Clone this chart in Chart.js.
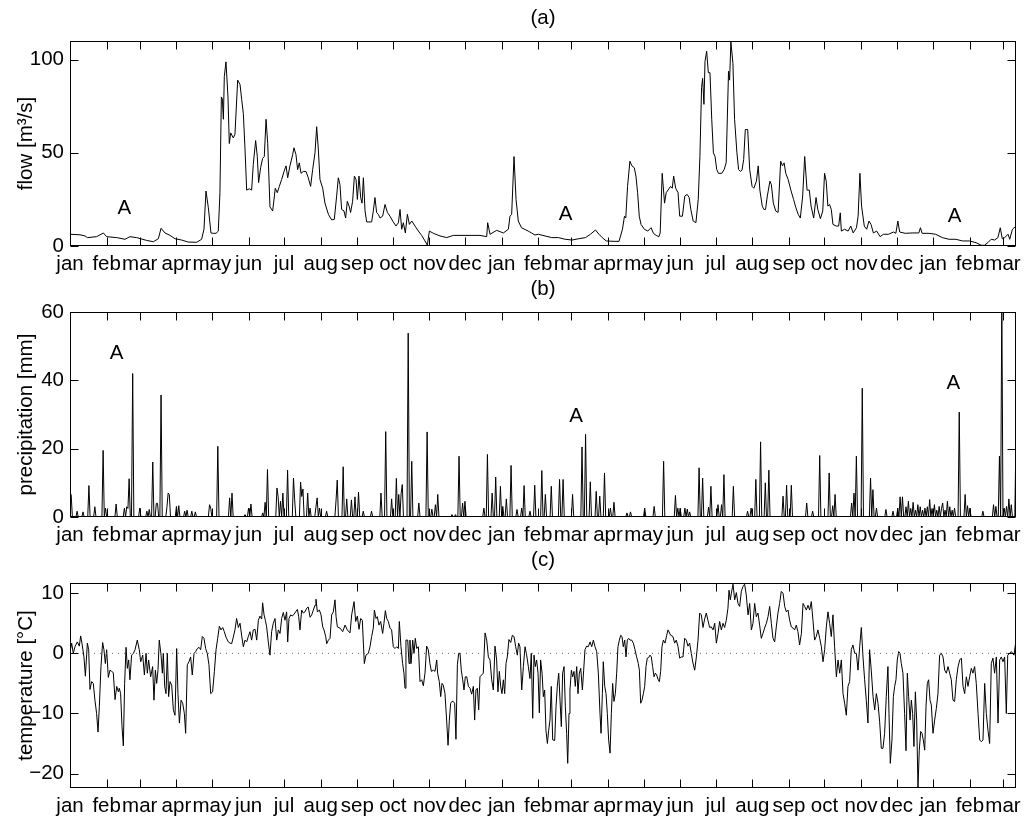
<!DOCTYPE html>
<html><head><meta charset="utf-8">
<script src="https://cdn.jsdelivr.net/npm/chart.js@4.4.1/dist/chart.umd.min.js"></script>
<style>
html,body{margin:0;padding:0;background:#fff;}
#wrap{position:relative;width:1028px;height:821px;overflow:hidden;background:#fff;}
canvas{position:absolute;left:0;}
</style></head><body>
<div id="wrap">
<canvas id="cA" width="1028" height="275" style="top:0px"></canvas>
<canvas id="cB" width="1028" height="270" style="top:275px"></canvas>
<canvas id="cC" width="1028" height="276" style="top:545px"></canvas>
</div>
<script>
// ---- x axis: day index from 1 Jan of the first year; month starts & labels ----
const monthTickDays = [0,31,59,90,120,151,181,212,243,273,304,334,365,396,424,455,485,516,546,577,608,638,669,699,730,761,789];
const monthLabels = ['jan','feb','mar','apr','may','jun','jul','aug','sep','oct','nov','dec','jan','feb','mar','apr','may','jun','jul','aug','sep','oct','nov','dec','jan','feb','mar'];

// ---- y ticks ----
const flowTicks = [0, 50, 100];
const precipTicks = [0, 20, 40, 60];
const tempTicks = [-20, -10, 0, 10];

// ---- (a) flow [m3/s] : [day, value] ----
const flowPoints = [
[0,6.3],[8.5,6],[12.7,5.4],[14.7,4.5],[22.5,5],[28.2,7],[31,5],[39.5,4.5],[46.5,3.6],[50.7,5],[56.4,4.5],[64.8,3],[70.5,2.3],[74.7,3.9],[77,9.5],[80.3,7],[84.6,5.7],[88.8,3.9],[94.4,3.2],[100,2.1],[107.1,2],[111.3,3.6],[113.3,9],[115,29.5],[117,20.5],[119.2,7],[121.2,6.8],[123.5,6.8],[125.4,8],[126.8,28.6],[128,80],[128.8,79],[129.7,68],[130.5,91],[131.9,98.8],[133.6,80],[134.7,55],[135.9,60.7],[138.1,58],[139.5,60],[141.8,89],[143.8,86.6],[145.2,78.6],[146.6,71],[148,52],[149.4,30],[151.7,30.7],[153.6,30],[155,43.8],[157,56.6],[158.4,48],[159.5,34],[161.2,42],[162.9,47],[164.3,48],[165.8,68],[167.2,55],[169.1,21],[171.4,18.8],[173.6,31],[175.3,28.6],[177,32],[179,35.7],[181,40],[182.7,43],[184.1,36.6],[186,43],[188.3,49],[189.4,52.7],[191.1,49],[192.5,41],[193.9,44.6],[195.4,39],[197.3,40],[199.6,40],[201.5,36.6],[203.5,32],[205.2,41],[207.2,50],[208.6,64],[210,52],[211.4,35.7],[213.7,31],[215.6,23],[218.5,17],[221.3,14],[223.5,14.3],[225.5,26.8],[226.9,36.6],[228.3,33],[229.7,19.6],[231.7,18.8],[233.1,15],[234.5,24],[236.2,21],[237.3,18],[239,24],[240.5,37.5],[241.9,35.7],[243,25],[244.4,37.5],[245.8,26],[247,23],[248.1,36.6],[249.5,18.8],[250.9,12.9],[255.1,12.9],[256.5,18.8],[257.9,26],[259.3,18],[260.7,17],[262.2,15],[264.4,16],[266.4,22.3],[268.4,18],[270.6,16],[272.9,13.4],[275.7,10.7],[277.7,12.5],[279.1,19.6],[280.5,9],[281.9,12.5],[283.6,7],[285.3,17],[287,11.6],[289,13.4],[291.8,10.7],[294.6,8],[297.4,5.7],[300.2,2.7],[302.2,0.4],[303.9,8],[307.3,6.8],[312.9,5.4],[318.5,4.5],[324.2,5.7],[346.7,5.7],[352.4,5],[353.2,12.5],[355.2,6.3],[360.8,8.4],[363.6,7.7],[366.5,7],[370.7,9],[372.1,16],[373.5,17],[375.5,48],[377.2,25],[379.1,13.4],
[381.8,9.8],[387.5,8],[390.3,7],[393.2,5.9],[396,6.3],[401.7,5.4],[407.4,4.5],[413.1,4.5],[418.8,3.6],[424.5,3.2],[430.2,3.9],[435.9,4.5],[440.1,6.3],[444.4,8.6],[447.3,6.3],[450.1,4.5],[453.5,2.7],[460.1,2.5],[464.3,2.5],[467.2,9],[468.9,16],[470,15],[471.5,32],[473.5,45.5],[475.2,43],[477.2,42],[478.6,37.5],[480,28.6],[481.4,16],[482.9,11.6],[485.7,9],[488.6,8],[491.4,9.8],[493.4,6.8],[495.7,5.7],[498,5],[499.1,7],[500.8,39],[502.8,23],[504.2,28.6],[506.5,30.7],[507.9,32],[509.3,31],[510.5,37.5],[512.2,31],[514.2,28.6],[515.6,16],[517.9,16],[519.9,26.8],[521.9,27.7],[523.6,26],[525,19.6],[527,13.4],[529.3,12.5],[531.3,25],[532.7,48],[534.1,85],[535,90],[536.1,76],[537,99],[538.4,104.5],[539.8,93],[541.2,93],[542.7,68],[544.1,50],[545.5,48],[546.9,41],[548.4,39],[551.2,39],[553.2,41],[554.9,44.6],[556.9,93.8],[557.8,89],[558.9,109.5],[560.6,98],[562,68],[564,50],[565.4,41],[566.9,40],[568.3,40.7],[569.7,46.4],[571.1,62.5],[573.1,62.5],[574.8,41],[576.8,32],[578.3,31],[580.5,34.8],[582,43],[583.4,30],[585.4,21.4],[586.8,19.6],[588.2,19.6],[589.7,26.8],[591.9,34.8],[593.1,33],[594.8,23],[596.8,18.8],[598.8,18],[601,45.5],[602.5,43],[603.9,44.6],[605.3,39],[607.3,35.7],[609.6,30],[611.9,25],[613.9,20.5],[615.8,17],[617.6,15],[619.6,26.8],[621.3,48],[623.3,30],[625.2,30],[626.7,21.4],[628.9,15],[630.9,26],[632.4,19.6],[634.6,14.6],[636.6,18.8],[638.1,39],[639.5,34.8],[640.9,21.4],[642.3,22.3],[643.8,19.6],[645.2,11.6],[648,10.7],[650,10.7],[651.4,17.8],[652.3,8],[655.1,9],[658,8],[660.3,10.7],[662.3,7],[665.1,9.8],[666.5,16],[668,39],[669.4,21.4],[671.7,10.7],[673.7,9],[675.7,13.4],[677.4,11.6],[679.4,7],[682.2,8],[685.1,5],[687.9,6.3],[692.2,6.3],[696.4,7.5],[698.4,6.8],[700.1,13.4],[701.6,7.5],[706.4,6.8],[712.1,7],[717.8,7],[719.2,9.8],[720.6,6.8],[726.3,6.8],[732,6.3],[737.7,4.5],[743.4,3.6],[749.1,3.6],[754.8,2.7],[760.5,2.7],[766.2,1.8],[770.5,0.4],[773.3,0.4],[776.2,1.8],[779,3.6],[781.9,3.2],[784.7,4.5],[786.7,9.8],[788.4,3.9],[790.4,4.5],[793.3,6.3],[794.7,3.6],[797,9],[800,10.7]
];

// ---- (b) precipitation [mm] : rain days [day, mm]; all other days are dry (0 mm) ----
const precipEvents = [
[0,7],[1,6.5],[6,1.7],[11,1.5],[16,9.2],[21,3],[28,19.5],[30,2.6],[39,3.8],[46,2.6],[48,3],[49,2.5],[50,11.2],[53,42],[59,2.6],[65,1.7],[67,2.2],[70,16.1],[73,4],[74,4],[77,35.7],[82,3],[83,7],[84,6.5],[90,3.1],[92,3.3],[97,1.7],[99,2],[103,1.7],[106,1.5],[118,3.6],[119,2.6],[125,20.7],[135,5.6],[137,7],[148,0.7],[151,2.6],[153,3.8],[163,1.2],[165,4.3],[167,13.9],[175,8.5],[176,6],[178,4.6],[180,7],[184,13.7],[189,11.4],[190,5],[195,10.2],[196,6],[197,8.2],[201,7],[203,2.6],[208,3],[209,5.6],[211,2.6],[217,1.7],[225,5],[226,10.8],[231,14.7],[234,5.3],[238,5],[241,5.9],[244,7.3],[248,1.7],[255,1.7],[263,7],[267,25],[272,5.3],[276,11.3],[278,6.6],[280,6.8],[281,9.5],[286,53.8],[289,16.3],[295,4.1],[302,24.9],[306,2.3],[309,3.6],[311,6.6],[323,0.7],[326,0.7],[329,17.8],[332,4.1],[334,4.6],[350,2.6],[353,18.3],[357,7],[360,11.7],[364,9],[366,3.1],[369,5.3],[373,15.1],[378,2.2],[382,2.6],[384,9.2],[389,1.7],[393,9.3],[399,13.6],[402,6.6],[407,9],[414,11],[417,11],[425,6.6],[433,20.5],[436,24.2],[440,10.3],[445,7.5],[448,6.1],[452,12.9],[457,2.6],[460,4.3],[471,1.2],[474,1.5],[486,2.6],[494,3.1],[502,16.3],[512,6.3],[514,2.6],[516,2.6],[520,2.6],[522,2.3],[524,1.5],[532,14.4],[535,11.4],[540,2.9],[542,9],[548,3.6],[551,3.6],[553,12.4],[561,9],[573,1.7],[576,2.6],[580,11],[584,22],[588,10],[591,13.7],[603,6.1],[606,9.3],[610,9.3],[623,4.1],[628,1.7],[634,18],[642,12.9],[645,3.3],[647,6.6],[661,4.1],[663,7],[665,17.8],[670,37.7],[677,11.4],[679,8],[682,2.6],[690,2.2],[696,1.7],[700,2.6],[702,5.9],[704,5.9],[707,3],[709,4.6],[711,2.5],[713,4.3],[715,2],[717,3.6],[719,3],[721,2],[723,2.6],[725,3],[727,5.1],[729,2.5],[731,3.6],[733,2],[735,3.1],[737,2.5],[738,4.1],[740,2],[742,4.6],[744,3],[746,2],[748,2.6],[752,30.7],[757,6.6],[759,3.3],[761,2.6],[772,1.7],[781,3.6],[783,3.1],[786,17.8],[788,63],[790,2.6],[792,3.1],[794,5.3],[796,3.6],[800,24.2]
];

// ---- (c) temperature [°C] : [day, value] ----
const tempPoints = [
[0.6,0.8],[1.4,1.7],[2.8,0],[4.2,1.1],[6.2,1.9],[7.9,1.2],[9,2.9],[10.1,1.7],[11.8,-0.6],[13,-3.8],[14.7,1.7],[15.8,0.6],[16.9,-6],[18.3,-4.7],[19.7,-5],[21.1,-7.8],[22.5,-10],[23.7,-13.1],[24.8,-8.9],[26.2,-2.2],[27.6,1.8],[28.7,0.6],[29.9,-1.7],[31,0.6],[32.4,-4],[33.8,-2.8],[35.2,-3],[36.6,-3.2],[38.1,-7.7],[39.5,-5.5],[40.9,-6.4],[41.7,-5.8],[42.8,-6.7],[44,-12.2],[45.1,-15.4],[46.2,-5],[47.4,1],[48.5,-2.5],[49.6,-1.1],[50.7,-4.4],[52.1,-0.3],[53.6,0],[55,0.6],[56.9,2.2],[58.6,0.6],[59.8,-1.4],[61.5,-0.3],[62.9,-3.6],[64.3,0],[65.4,-3.3],[66.5,-1.1],[68.2,-3.9],[69.9,-2.2],[71,-7.8],[72.2,-2.8],[73.3,-5],[74.4,-2.8],[75.5,2.2],[77,-0.3],[78.1,-3.3],[78.9,0],[80.1,-5.5],[81.2,-6.7],[82.3,0],[83.4,-7.2],[84.6,-4.7],[86,-5.3],[87.4,-9.4],[88.8,-10.3],[90.2,0.8],[91.3,-6.7],[92.5,-11.6],[93.9,-7.8],[95.3,-8.3],[96.7,-10],[97.8,-13.3],[99.2,-1.9],[100.6,-1.4],[102,-0.6],[103.4,-3.6],[104.9,0],[106.3,0.3],[107.7,0.8],[109.1,1],[110.5,0.6],[111.9,2.8],[113.3,2.5],[114.7,0.8],[116.1,0],[117.5,-1.9],[119,-6.7],[120.6,-6.4],[122.1,-3],[123.5,0.6],[124.9,2.5],[126.3,4.5],[127.7,3.9],[129.1,4.3],[130.5,3.6],[131.9,2.7],[133.9,1.9],[135.3,1.7],[136.7,1.6],[138.1,2.7],[139.5,3.9],[140.9,5.8],[142.4,4.3],[143.8,5],[145.2,2.9],[146.6,1.1],[148,2.2],[149.4,1.9],[150.8,2.8],[152.2,3.6],[153.6,2.2],[155,3.9],[156.5,4],[157.9,2.2],[159.3,5.5],[160.7,6.2],[162.1,5.7],[162.9,8.4],[164.1,6.4],[165.2,5.5],[166.3,4.4],[167.7,1.9],[169.1,-0.3],[170.5,3.6],[171.9,5],[173.4,5.8],[174.8,2.2],[176.2,3.9],[177.6,3.3],[179,5.8],[180.4,6.8],[181.8,5.5],[183.2,6.9],[184.1,1.9],[185.2,5.8],[186.6,6.4],[188,6.2],[189.4,6.5],[190.8,6.9],[192.3,7.3],[193.4,6.1],[194.5,3.9],[195.9,7.2],[197.3,6.7],[198.7,6.9],[200.1,7.5],[201.5,7.7],[203,6],[204.4,6.4],[205.8,7.2],[207.2,8],[208,9],[209.2,6.9],[210.9,7.2],[212.3,6.4],[213.7,4.4],[214.8,3.9],[216.2,2.8],[217.1,1.6],[218.5,2.2],[219.9,2.5],[221.3,6.4],[222.7,6.9],[224.1,8.9],[225,6.1],[226.1,4.4],
[228.3,4.2],[230.6,3.6],[232.6,4.7],[234.5,3.9],[236.8,3.4],[238.2,6.4],[240.2,8.6],[241.6,5.3],[243,6.2],[244.4,4],[245.8,5.8],[247.2,5.5],[248.9,-1.7],[250.3,-0.3],[252.3,0],[253.7,1.1],[255.1,2.8],[256.5,4.2],[257.4,7.2],[258.8,5.8],[259.9,6.1],[261.3,4.7],[262.7,5.3],[264.4,3.3],[265.5,5],[266.7,7.1],[267.8,5.8],[269.2,5.3],[270.6,4.2],[272,3.9],[273.4,1.1],[274.8,0.8],[276.3,1.1],[277.7,0.8],[278.5,5.3],[279.9,1.1],[281.3,-1.7],[282.4,-3.3],[283.3,-5.8],[284.1,2.2],[285.6,2.2],[286.7,-1.7],[287.5,2.2],[288.4,-1.7],[289.8,2.2],[290.9,0],[292,2.5],[293.2,0.8],[294.6,1.1],[296,-4.7],[297.4,-4.4],[298.8,-5.4],[300.2,-3.3],[301.6,1.2],[303,0.6],[304.4,-1.7],[305.6,-3],[307.3,-2.8],[308.7,-3],[310.1,-1.1],[310.9,-3.3],[312.3,-4.7],[313.5,-7.2],[314.6,-5],[315.7,-5.3],[317.1,-6.7],[318.5,-11.1],[319.7,-15.3],[320.8,-11.1],[321.9,-8.3],[323,-8],[324.1,-8],[325.3,-8.3],[326.4,-14.3],[327.6,-1.9],[328.7,0],[329.8,0],[330.9,-2.8],[332.1,-4.4],[333.2,-6.1],[334.3,-3.9],[335.5,-3.9],[336.9,-5.5],[338.3,-5.8],[339.7,-6.8],[341.1,-5.5],[342.2,-11.1],[343.3,-6.1],[344.5,-5.8],[345.6,-9.4],[346.7,-3.9],[348.1,-3.6],[349.5,-3.3],[351,3.4],[352.4,2.2],[353.8,-0.6],[355.2,-1.1],[356.6,-4.4],[358,-6.1],[359.4,1.2],[360.8,-1.1],[361.9,-6.4],[363.1,-3],[364.2,-5.5],[365.3,-6.7],[366.5,-4.4],[367.6,-6.7],[368.7,-1.7],[369.8,-0.6],[371.2,2.3],[372.7,1.8],[374.1,3],[375.5,2.8],[376.9,1.1],[378.3,-0.3],[379.4,1.7],[380.5,1.1],[382,-6.1],[383.4,-2.2],[384.8,1.1],[386.2,-0.3],[387.6,-2.2],[389,-4.2],[390.1,0],[391.3,-10.8],[392.4,-0.3],[393.5,-2.2],[394.6,-1.1],[395.8,-3.3],[396.9,-9.9],[398,-1.1],[399.2,-3.3],[400.3,-7.2],[401.4,-6.1],[402.5,-12.8],[403.7,-15],[404.8,-12.8],[405.9,-11.1],[407,-5.5],[408.2,-14.4],[409.9,-14.5],[411,-8.9],[412.1,-5.5],[413.3,-3.3],[414.4,-7.8],[415.5,-12.2],[416.6,-3.3],[417.8,-2.2],[418.9,-8.9],[420,-13.3],[420.9,-18.3],[422,-10],[422.8,-6.1],[424,-2.8],[425.1,-3.9],[426.2,-3],[427.3,-5.5],[428.5,-2.2],[429.6,-6.7],[430.7,-3.3],[431.9,-2.5],[433.3,-6.1],[434.4,-2.8],[435.5,0.6],[436.9,1.2],[438.3,1.1],[439.8,1.9],[441.2,1.1],[442.6,2.2],[444,1.1],[445.4,0.3],[446.8,-3.3],[448.2,-10],[449.1,-13.3],[450.2,-6.7],[451,-1.4],[452.2,-5.5],[453.3,-6.7],[454.4,-10],[455.5,-14.4],[456.7,-16.6],[457.8,-10],[458.9,-5],[460,-8],[461.2,-6.7],[462.3,-3.3],[463.4,1.1],[464.6,2.2],[465.7,3],[466.8,2.8],[467.9,1.1],[469.1,2.2],[470.2,-0.6],[471.3,2.2],[472.4,2.5],[473.6,2.2],[475,2.2],[476.4,1.7],[477.8,0.6],[479.2,-0.6],[480.6,-1.7],[481.5,-2.8],[482.6,-8.3],[483.7,-7.8],[484.9,-6.7],[486,-5.5],[487.1,-2.2],[488.2,-0.8],[489.4,-0.7],[490.5,-0.3],[491.6,-0.6],[492.7,-2.2],[493.9,-3.9],[495,-3.3],[496.1,-3.6],[497.5,-4.4],[498.4,-4.7],[499.5,-3],[500.6,1.1],[501.8,2.2],[503.2,1.7],[504.6,3],
[505.7,3.9],[508,3],[509.9,2.8],[511.3,1.7],[512.7,2.2],[514.2,1.1],[515.6,-0.8],[517,-0.6],[518.4,-0.6],[519.8,2.5],[521.2,2.2],[522.6,1.2],[524,1.7],[525.4,0],[526.8,-1.6],[528.3,-2.8],[529.7,-0.6],[531.1,2.2],[532.5,6.7],[533.9,6.4],[535.3,4.3],[536.7,5.7],[538.1,6.7],[539.5,5.5],[540.9,4.3],[542.3,4.4],[543.8,3.9],[545.2,5],[546.6,1.7],[548,3.3],[549.4,5.3],[550.8,3.9],[552.2,5],[553.6,4.3],[555,5.5],[556.4,7.5],[557.3,10.5],[558.4,8.9],[559.3,10],[560.7,11.5],[562.1,8.9],[563.5,10.1],[564.9,8.3],[566.3,7.8],[567.7,10.3],[569.1,11.1],[570.5,11.5],[571.9,9.7],[573.4,6.4],[574.8,8.3],[576.2,3.9],[577.6,5],[579,8.3],[580.4,6.1],[581.8,6.7],[583.2,4.7],[584.6,2.5],[586,3.3],[587.4,4.2],[588.9,5],[590.3,6.1],[591.7,7.8],[593.1,5],[594.5,2.5],[595.9,1.9],[597.3,4.4],[598.7,6.7],[600.1,8.3],[601.5,10.3],[603,10],[604.4,7.8],[605.8,6.9],[607.2,7.2],[608.6,5.5],[610,4.4],[611.4,4.2],[612.8,3.9],[614.2,4.7],[615.6,3.6],[617,1.4],[618.5,3.3],[619.9,8.3],[621.3,7.8],[622.7,7.2],[624.1,8],[625.5,7.2],[626.9,8.6],[628.3,5.5],[629.7,2.2],[631.1,2.8],[632.5,3.9],[634,2.5],[635.4,1.1],[636.8,-1.4],[638.2,0.6],[639.6,4.4],[641,6.9],[642.4,5],[643.8,2.8],[645.2,6.4],[646.6,1.1],[648.1,-3.9],[649.5,-1.1],[650.9,-3.3],[652.3,-1.1],[653.7,-6.7],[655.1,-8.3],[656.5,-10.3],[657.9,-5.5],[659.3,-4.7],[660.7,0.6],[662.1,1.4],[663.6,0],[665,0],[666.4,-2.8],[667.8,1.1],[669.2,4.3],[670.6,-0.6],[672,-4.4],[673.4,-7.8],[674.8,-11.6],[676.2,0.6],[677.6,-2.8],[679.1,-7.2],[680.5,-9.4],[681.9,-6.7],[683.3,-8.3],[684.7,-11.4],[686.1,-15.8],[687.5,-15.8],[688.9,-13.3],[690.3,-7.2],[691.7,-2.2],[692.6,-10],[693.7,-18.3],[695.1,-14.4],[696.3,-7.2],[697.4,-5.5],[698.5,-4.4],[699.6,-1.1],[700.8,0.3],[701.9,0],[703,-1.7],[704.4,-3.3],[705.8,-10],[707,-16.2],[708.1,-3.3],[709.2,-7.2],[710.4,-11.1],[711.5,-7.8],[712.6,-10],[713.7,-15.5],[714.9,-6.4],[716,-11.1],[717.1,-22.3],[718.2,-16.1],[719.4,-13],[720.5,-13.3],[721.6,-14.4],[722.8,-16.1],[723.9,-8.9],[725,-5],[726.1,-4.4],[727.3,-7.8],[728.4,-8.6],[729.8,-13.3],[731.2,-11.1],[732.6,-9.2],[734,-6.7],[735.4,-0.3],[736.9,0],[738.3,-0.6],[739.7,-2.8],[741.1,-3.3],[742.5,-2.2],[743.9,-3.3],[745.3,-4.4],[746.7,-7.8],[748.1,-8],[749.5,-4.4],[751,-2.2],[752.4,-1.1],[753.8,-0.8],[755.2,-5.5],[756.6,-6.7],[758,-3.9],[759.4,-5.5],[760.8,-3.9],[762.2,-2.5],[763.6,-3.3],[765,-2.2],[766.4,-5],[767.9,-10],[769.3,-14.4],[770.7,-14.7],[772.1,-14.4],[773.5,-5],[774.9,-10],[776.3,-12.8],[777.7,-15],[779.1,-1.7],[780.5,-0.8],[781.9,-3.3],[783.4,-0.6],[784.8,-11.6],[786.2,-1.1],[787.6,-0.6],[789,-1.4],[790.4,-0.6],[791.8,-10],[793,-0.3],[796.1,0.3],[798.3,-0.3],[800,2.2]
];

// reference line at 0 °C (first and last day)
const zeroRefPoints = [[0, 0], [800, 0]];

// "A" annotations [day, value]
const flowMarks = [[46, 20], [419, 17], [748, 16]];
const precipMarks = [[39.5, 48], [428, 29.4], [747, 39.2]];

// ---- drawing ----
const FONT = {family: '"Liberation Sans", Arial, Helvetica, sans-serif', size: 20.5, lineHeight: 1.2};
const FONT_CSS = '20.5px "Liberation Sans", Arial, Helvetica, sans-serif';
const toXY = arr => arr.map(p => ({x: p[0], y: p[1]}));

const precipSeries = [];
for (let d = 0; d <= 800; d++) precipSeries.push({x: d, y: 0});
precipEvents.forEach(e => { precipSeries[e[0]].y = e[1]; });

const framePlugin = {
  id: 'frame',
  afterDatasetsDraw(chart, args, o) {
    const {ctx, chartArea: a} = chart;
    const xs = chart.scales.x, ys = chart.scales.y;
    ctx.save();
    ctx.strokeStyle = '#000'; ctx.lineWidth = 1;
    const L = Math.round(a.left) + 0.5, R = Math.round(a.right) - 0.5;
    const T = Math.round(a.top) + 0.5, B = Math.round(a.bottom) - 0.5;
    ctx.beginPath();
    xs.ticks.forEach(t => {
      const p = Math.round(xs.getPixelForValue(t.value)) + 0.5;
      ctx.moveTo(p, B); ctx.lineTo(p, B - 8);
      ctx.moveTo(p, T); ctx.lineTo(p, T + 8);
    });
    ys.ticks.forEach(t => {
      const p = Math.round(ys.getPixelForValue(t.value)) + 0.5;
      ctx.moveTo(L, p); ctx.lineTo(L + 8, p);
      ctx.moveTo(R, p); ctx.lineTo(R - 8, p);
    });
    ctx.stroke();
    ctx.strokeRect(L, T, R - L, B - T);
    ctx.fillStyle = '#000';
    ctx.font = FONT_CSS;
    ctx.textAlign = 'center'; ctx.textBaseline = 'middle';
    ctx.fillText(o.title, (a.left + a.right) / 2, a.top - 23);
    (o.marks || []).forEach(m => ctx.fillText('A', xs.getPixelForValue(m[0]), ys.getPixelForValue(m[1])));
    ctx.restore();
  }
};

function lineSet(data, extra) {
  return Object.assign({data, showLine: true, borderColor: '#000', borderWidth: 1, pointRadius: 0, pointHoverRadius: 0, fill: false, tension: 0}, extra || {});
}

function makePanel(id, cfg) {
  return new Chart(document.getElementById(id), {
    type: 'scatter',
    data: {datasets: cfg.datasets},
    options: {
      responsive: false, animation: false, devicePixelRatio: 1,
      events: [],
      layout: {autoPadding: false, padding: {left: 0, right: 12, top: cfg.padTop, bottom: 0}},
      plugins: {legend: {display: false}, tooltip: {enabled: false}, frame: {title: cfg.title, marks: cfg.marks}},
      scales: {
        x: {
          type: 'linear', min: 0, max: 800,
          grid: {display: false, drawTicks: false}, border: {display: false},
          afterBuildTicks: s => { s.ticks = monthTickDays.map(v => ({value: v})); },
          afterFit: s => { s.height = cfg.xAxisH; s.paddingLeft = 0; s.paddingRight = 0; },
          ticks: {autoSkip: false, maxRotation: 0, minRotation: 0, padding: 5.7, color: '#000', font: FONT,
                  callback: (v, i) => monthLabels[i]}
        },
        y: {
          type: 'linear', min: cfg.yMin, max: cfg.yMax,
          grid: {display: false, drawTicks: false}, border: {display: false},
          afterBuildTicks: s => { s.ticks = cfg.yTicks.map(v => ({value: v})); },
          afterFit: s => { s.width = 70; s.paddingTop = 0; s.paddingBottom = 0; },
          ticks: {padding: 6, color: '#000', font: FONT,
                  callback: v => v < 0 ? '\u2212' + Math.abs(v) : String(v)},
          title: {display: true, text: cfg.yTitle, color: '#000', font: FONT, padding: {top: 13.7, bottom: 0}}
        }
      }
    },
    plugins: [framePlugin]
  });
}

makePanel('cA', {
  title: '(a)', padTop: 41, xAxisH: 29, yMin: 0, yMax: 110, yTicks: flowTicks,
  yTitle: 'flow [m\u00B3/s]', marks: flowMarks,
  datasets: [lineSet(toXY(flowPoints))]
});
makePanel('cB', {
  title: '(b)', padTop: 37, xAxisH: 28, yMin: 0, yMax: 60, yTicks: precipTicks,
  yTitle: 'precipitation [mm]', marks: precipMarks,
  datasets: [lineSet(precipSeries)]
});
makePanel('cC', {
  title: '(c)', padTop: 38, xAxisH: 33, yMin: -22.4, yMax: 11.7, yTicks: tempTicks,
  yTitle: 'temperature [\u00B0C]', marks: [],
  datasets: [
    lineSet(toXY(zeroRefPoints), {borderColor: '#666', borderDash: [1, 5]}),
    lineSet(toXY(tempPoints))
  ]
});
</script>
</body></html>
